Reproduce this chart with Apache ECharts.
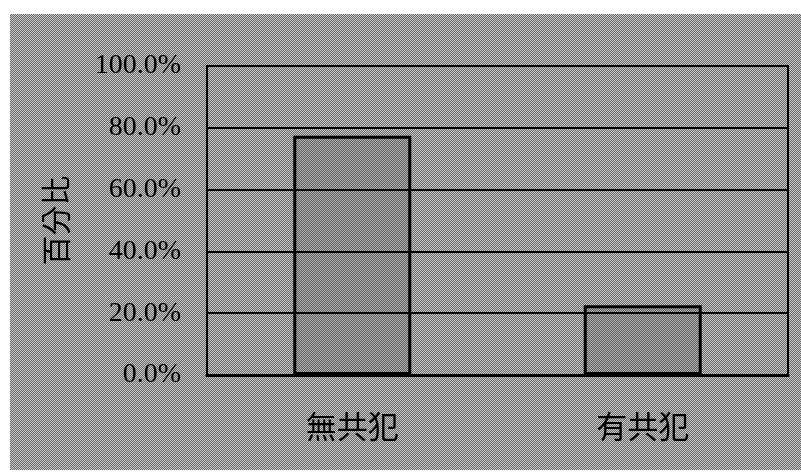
<!DOCTYPE html>
<html>
<head>
<meta charset="utf-8">
<script src="https://cdn.jsdelivr.net/npm/echarts@6/dist/echarts.min.js"></script>
<style>
  html, body { margin: 0; padding: 0; background: #fff; }
  #wrap { position: relative; width: 801px; height: 472px; }
  /* 灰色网点背景 */
  #bg {
    position: absolute; left: 10px; top: 14px; width: 791px; height: 456px;
    background-color: #999;
    background-image: conic-gradient(#686868 25%, #cacaca 0 50%, #686868 0 75%, #cacaca 0);
    background-size: 2px 2px;
  }
  #chart { position: absolute; left: 0; top: 0; width: 801px; height: 472px; }
</style>
</head>
<body>
<div id="wrap">
  <div id="bg"></div>
  <div id="chart"></div>
</div>
<script>
// 数据
var categories = ['無共犯', '有共犯'];
var percents = [77.4, 22.6];
var yTicks = ['0.0%', '20.0%', '40.0%', '60.0%', '80.0%', '100.0%'];

var chart = echarts.init(document.getElementById('chart'));

var option = {
  backgroundColor: 'transparent',
  animation: false,
  grid: {
    left: 207, right: 13, top: 66, bottom: 97,
    show: true,
    borderColor: '#000',
    borderWidth: 2
  },
  xAxis: {
    type: 'category',
    data: categories,
    axisLine: { lineStyle: { color: '#000', width: 3 } },
    axisTick: { show: false },
    axisLabel: {
      color: '#000',
      fontFamily: 'Noto Sans CJK TC',
      fontSize: 31,
      margin: 36
    }
  },
  yAxis: {
    type: 'value',
    min: 0, max: 100, interval: 20,
    name: '百分比',
    nameLocation: 'middle',
    nameRotate: 90,
    nameGap: 136,
    nameTextStyle: {
      color: '#000',
      fontFamily: 'Noto Sans CJK TC',
      fontSize: 30
    },
    axisLine: { show: true, lineStyle: { color: '#000', width: 2 } },
    axisTick: { show: false },
    splitLine: { lineStyle: { color: '#000', width: 2 } },
    axisLabel: {
      color: '#000',
      fontFamily: 'Liberation Serif',
      fontSize: 28,
      margin: 26,
      formatter: function (v) { return yTicks[Math.round(v / 20)]; }
    }
  },
  series: [{
    type: 'bar',
    data: percents,
    barWidth: 118,
    itemStyle: {
      color: 'rgba(50,50,50,0.15)',
      borderColor: '#000',
      borderWidth: 3
    }
  }]
};

chart.setOption(option);
</script>
</body>
</html>
